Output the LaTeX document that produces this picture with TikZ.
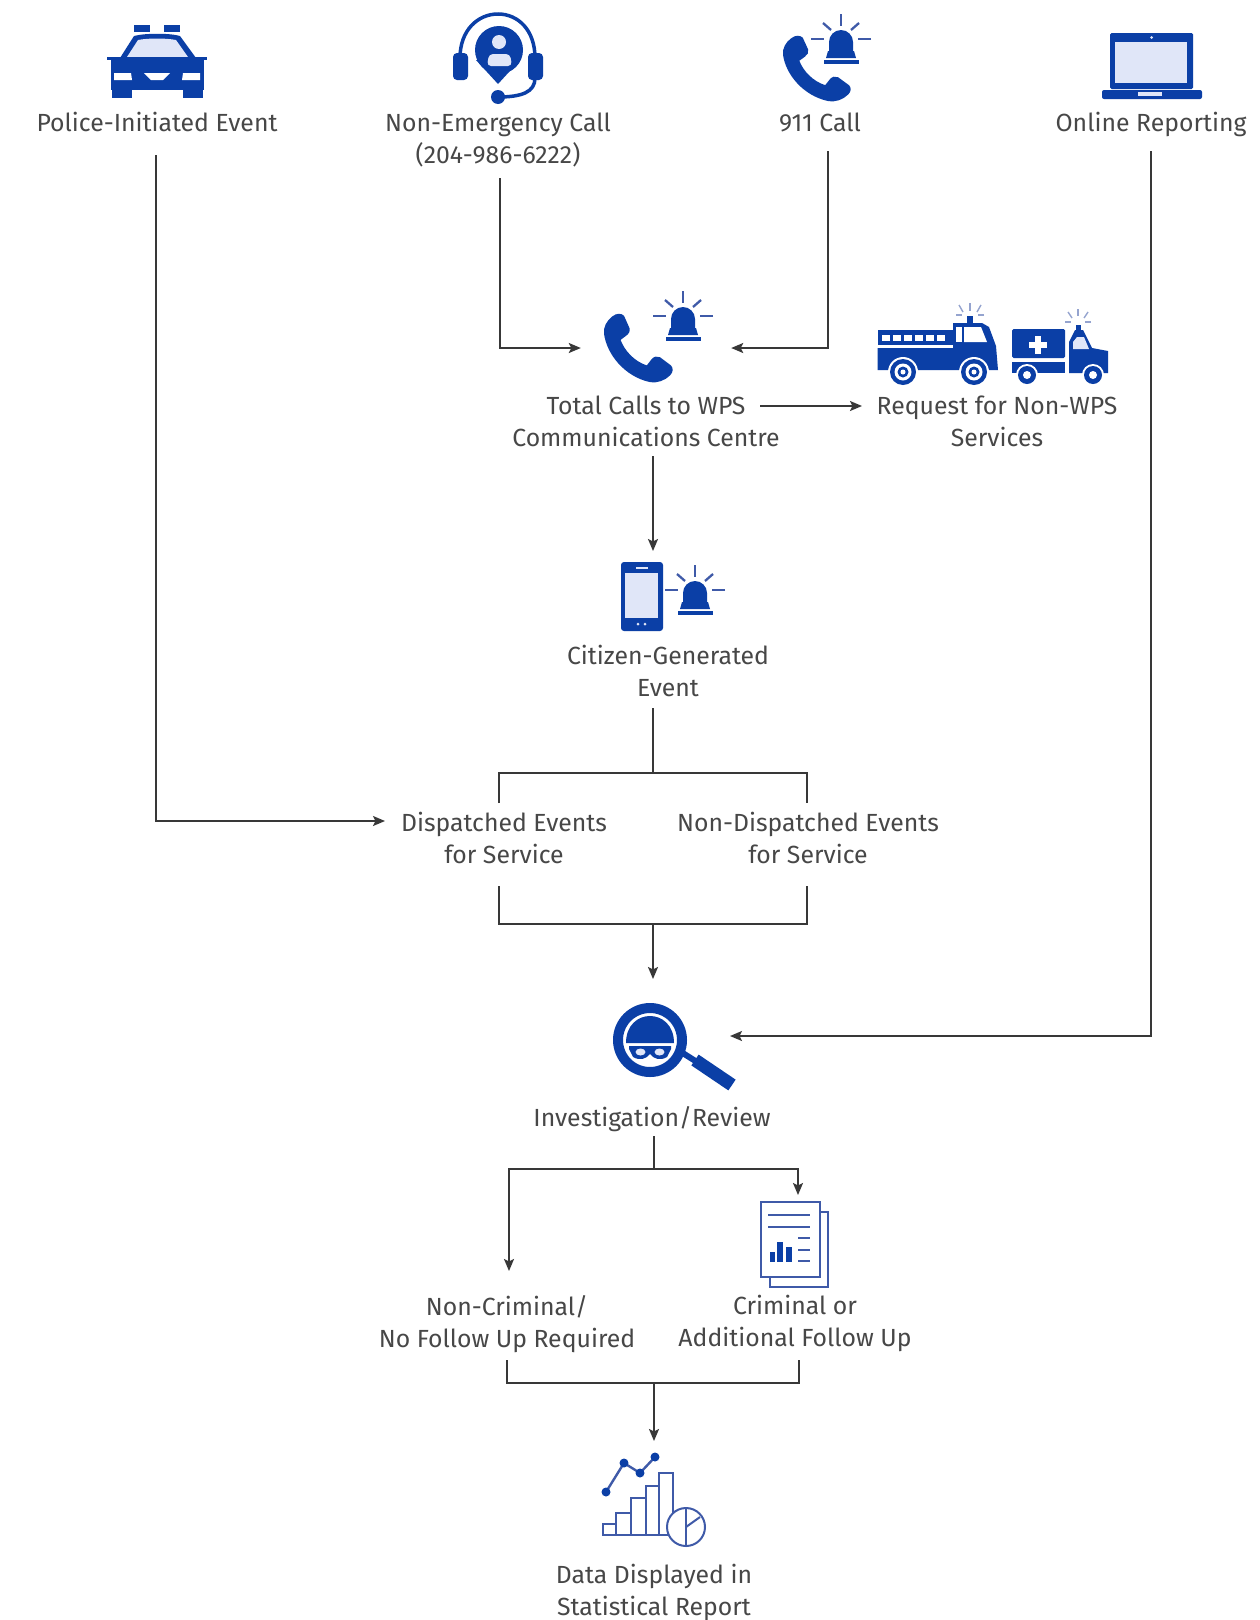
\documentclass[tikz,border=0pt]{standalone}
\usepackage{fontspec}
\setmainfont{Fira Sans}
\usetikzlibrary{arrows.meta}
\definecolor{wblue}{HTML}{0B3FA6}
\definecolor{wlight}{HTML}{E0E6F8}
\definecolor{wline}{HTML}{383838}
\definecolor{wtext}{HTML}{474747}
\definecolor{wout}{HTML}{3F5AA8}
\newcommand{\ls}{\rule[-6pt]{0pt}{24pt}}
\tikzset{
  lab/.style={text=wtext,font=\fontsize{24.8}{32}\selectfont,inner sep=0pt,align=center,anchor=center},
  conn/.style={draw=wline,line width=1.8pt},
  arr/.style={conn,-{Stealth[length=12pt,width=10pt,inset=2.5pt]}},
  iconbox/.style={inner sep=0pt,draw=none,fill=none},
  ray/.style={draw=wout,line width=2.3pt},
  thin rays/.style={draw=wout!55,line width=1.4pt},
  outl/.style={draw=wout,line width=2pt,fill=white}
}
\newcommand{\beaconicon}[2]{%
\begin{scope}[shift={(#1,#2)}]
  \fill[wblue] (-12,-11) -- (-12,-22) arc[start angle=180,end angle=360,radius=12] -- (12,-11) -- cycle;
  \fill[wblue] (-13,-13) -- (13,-13) -- (15,-6) -- (-15,-6) -- cycle;
  \fill[wblue] (-17.5,-4) rectangle (17.5,0);
  \draw[ray] (0,-50) -- (0,-38);
  \draw[ray] (-18,-41) -- (-10,-34);
  \draw[ray] (18,-41) -- (10,-34);
  \draw[ray] (-30,-25) -- (-17,-25);
  \draw[ray] (30,-25) -- (17,-25);
\end{scope}}
\newcommand{\phoneicon}[4]{%
\begin{scope}[shift={(#1,#2)},x=#3pt,y=-#4pt]
  \fill[wblue] (12,5) .. controls (18,0) and (25,0) .. (29,4) -- (37,22)
   .. controls (38,27) and (36,30) .. (32,33) -- (24,39)
   .. controls (30,55) and (44,70) .. (62,76) -- (69,67)
   .. controls (72,63) and (77,62) .. (81,64) -- (97,76)
   .. controls (101,80) and (100,86) .. (96,90)
   .. controls (88,98) and (78,102) .. (66,100)
   .. controls (30,92) and (4,60) .. (0,30)
   .. controls (-1,20) and (4,11) .. (12,5) -- cycle;
\end{scope}}
\begin{document}
\begin{tikzpicture}[x=1pt,y=-1pt]
\useasboundingbox[fill=white] (0,0) rectangle (1260,1620);
% ---------- labels
\node[lab] (police) at (157,125) {\ls Police-Initiated Event};
\node[lab] (nonem) at (498,141) {\ls Non-Emergency Call\\\ls (204-986-6222)};
\node[lab] (nine) at (820,125) {\ls 911 Call};
\node[lab] (online) at (1151,125) {\ls Online Reporting};
\node[lab] (total) at (646,424) {\ls Total Calls to WPS\\\ls Communications Centre};
\node[lab] (request) at (997,424) {\ls Request for Non-WPS\\\ls Services};
\node[lab] (citizen) at (668,674) {\ls Citizen-Generated\\\ls Event};
\node[lab] (disp) at (504,841) {\ls Dispatched Events\\\ls for Service};
\node[lab] (nondisp) at (808,841) {\ls Non-Dispatched Events\\\ls for Service};
\node[lab] (invest) at (652,1119) {\ls Investigation/Review};
\node[lab] (noncrim) at (507,1324) {\ls Non-Criminal/\\\ls No Follow Up Required};
\node[lab] (crim) at (795,1324) {\ls Criminal or\\\ls Additional Follow Up};
\node[lab] (data) at (654,1593) {\ls Data Displayed in\\\ls Statistical Report};
% ---------- icon anchor boxes
\node[iconbox,minimum width=150pt,minimum height=60pt] (callsicon) at (656,348) {};
\node[iconbox,minimum width=80pt,minimum height=10pt,anchor=north] (citizenicon) at (653,551) {};
\node[iconbox,minimum width=150pt,minimum height=10pt,anchor=north] (magicon) at (653,979) {};
\node[iconbox,minimum width=80pt,minimum height=10pt,anchor=north] (docicon) at (798,1195) {};
\node[iconbox,minimum width=80pt,minimum height=10pt,anchor=north] (charticon) at (654,1441) {};
% ---------- connector ends and junctions
\coordinate (policeS) at (156,155);
\coordinate (nonemS) at (500,178);
\coordinate (nineS) at (828,151);
\coordinate (onlineS) at (1151,151);
\coordinate (dispW) at (385,821);
\coordinate (totalE) at (760,406);
\coordinate (requestW) at (862,406);
\coordinate (totalS) at (653,456);
\coordinate (citizenS) at (653,708);
\coordinate (split) at (653,773);
\coordinate (dispN) at (499,803);
\coordinate (nondispN) at (807,803);
\coordinate (dispS) at (499,886);
\coordinate (nondispS) at (807,886);
\coordinate (merge) at (653,924);
\coordinate (investS) at (654,1136);
\coordinate (split2) at (654,1169);
\coordinate (noncrimN) at (509,1271);
\coordinate (noncrimS) at (507,1360);
\coordinate (crimS) at (799,1360);
\coordinate (merge2) at (654,1383);
\coordinate (magE) at (730,1036);
% ---------- connectors
\draw[arr] (policeS) |- (dispW);
\draw[arr] (nonemS) |- (callsicon.west);
\draw[arr] (nineS) |- (callsicon.east);
\draw[arr] (totalE) -- (requestW);
\draw[arr] (totalS) -- (citizenicon.north);
\draw[conn] (citizenS) -- (split);
\draw[conn] (dispN) |- (split) -| (nondispN);
\draw[conn] (dispS) |- (merge) -| (nondispS);
\draw[arr] (merge) -- (magicon.north);
\draw[arr] (onlineS) |- (magE);
\draw[conn] (investS) -- (split2);
\draw[arr] (split2) -| (noncrimN);
\draw[arr] (split2) -| (docicon.north);
\draw[conn] (noncrimS) |- (merge2) -| (crimS);
\draw[arr] (merge2) -- (charticon.north);
% ---------- police car
\fill[wblue] (134,25) rectangle (150,32);
\fill[wblue] (164,25) rectangle (180,32);
\fill[wblue] (120,58) -- (134,36) .. controls (145,33) and (170,33) .. (180,36) -- (196,58) -- cycle;
\fill[wlight] (127,57) -- (138,40) .. controls (148,38) and (166,38) .. (176,40) -- (188,57) -- cycle;
\fill[wblue] (107,57) rectangle (207,60);
\fill[wblue] (111,57) rectangle (204,90);
\fill[wblue] (112,88) rectangle (132,98);
\fill[wblue] (183,88) rectangle (203,98);
\fill[white] (114,73) -- (131,73) -- (132,80) -- (114,80) -- cycle;
\fill[white] (183,73) -- (200,73) -- (200,80) -- (182,80) -- cycle;
\fill[white] (144,73) -- (170,73) -- (163,80) -- (151,80) -- cycle;
% ---------- headset
\draw[wblue,line width=3.5pt] (460,58) .. controls (460,30) and (478,14) .. (498,14) .. controls (518,14) and (535,30) .. (535,58);
\fill[wblue,rounded corners=4pt] (453,53) rectangle (468,80);
\fill[wblue,rounded corners=4pt] (528,53) rectangle (543,80);
\draw[wblue,line width=3.5pt] (535,78) .. controls (535,92) and (522,97) .. (498,97);
\fill[wblue] (498,97) circle (7);
\fill[wblue] (476,60) -- (498,84) -- (520,60) -- cycle;
\fill[wblue] (499,50) circle (24);
\fill[wlight] (499,42) circle (7);
\fill[wlight,rounded corners=4pt] (487,66) -- (489,54) -- (510,54) -- (512,66) -- cycle;
% ---------- 911 call icon
\phoneicon{783}{35}{.68}{.66}
\beaconicon{841}{64}
% ---------- laptop
\fill[wblue,rounded corners=1.5pt] (1110,33) rectangle (1193,89);
\fill[wlight] (1115,42) rectangle (1187,83);
\fill[wlight] (1151.5,37.5) circle (1.5);
\fill[wblue,rounded corners=2pt] (1102,90) rectangle (1202,99);
\fill[wlight] (1138,92) rectangle (1162,96);
% ---------- total calls icon
\phoneicon{604}{313}{.69}{.69}
\beaconicon{683}{341}
% ---------- fire truck
\fill[wblue] (877.5,330) rectangle (953,345);
\foreach \xx in {882,893,904,915,926,937} {\fill[white] (\xx,335) rectangle ++(8,6);}
\fill[wblue] (953,323) -- (982,323) -- (989,327) -- (996,346) -- (998,370) -- (877.5,370) -- (877.5,348) -- (953,348) -- cycle;
\fill[white] (956,327) rectangle (962,342);
\fill[white] (964,327) -- (981,327) -- (987,342) -- (964,342) -- cycle;
\fill[wblue] (966.5,316) rectangle (972.5,323);
\fill[white] (903,372) circle (15);
\fill[wblue] (903,372) circle (13);
\fill[white] (903,372) circle (8.5);
\fill[wblue] (903,372) circle (5.5);
\fill[white] (903,372) circle (2.5);
\fill[white] (974,372) circle (15);
\fill[wblue] (974,372) circle (13);
\fill[white] (974,372) circle (8.5);
\fill[wblue] (974,372) circle (5.5);
\fill[white] (974,372) circle (2.5);
\draw[thin rays] (970,303) -- (970,311);
\draw[thin rays] (959,305) -- (963,312);
\draw[thin rays] (981,305) -- (977,312);
\draw[thin rays] (956,315) -- (962,315);
\draw[thin rays] (984,315) -- (978,315);
% ---------- ambulance
\fill[wblue,rounded corners=1.5pt] (1012,329) rectangle (1065,358);
\fill[wblue] (1012,362) rectangle (1065,373);
\fill[white] (1035,336) rectangle (1041,354);
\fill[white] (1029,342) rectangle (1047,348);
\fill[wblue] (1069,373) -- (1069,342) -- (1075,330) -- (1083,330) -- (1092,348) -- (1108,351) -- (1108,373) -- cycle;
\fill[wlight] (1073,349) -- (1073,342) -- (1077,337) -- (1084,337) -- (1089,349) -- cycle;
\fill[wblue] (1076,325) rectangle (1081,331);
\fill[white] (1027,375) circle (11);
\fill[wblue] (1027,375) circle (9);
\fill[white] (1027,375) circle (4);
\fill[white] (1093,375) circle (11);
\fill[wblue] (1093,375) circle (9);
\fill[white] (1093,375) circle (4);
\draw[thin rays] (1078,309) -- (1078,316);
\draw[thin rays] (1068,312) -- (1072,318);
\draw[thin rays] (1088,312) -- (1084,318);
\draw[thin rays] (1065,322) -- (1071,322);
\draw[thin rays] (1091,322) -- (1085,322);
% ---------- citizen icon (smartphone + beacon)
\fill[wblue,rounded corners=3pt] (621,562) rectangle (663,631);
\fill[wlight] (625,573) rectangle (658,618);
\fill[wlight] (636,566.5) rectangle (648,568.5);
\fill[wlight] (638,624) circle (1.5);
\fill[wlight] (645,624) circle (1.5);
\beaconicon{695}{615}
% ---------- magnifier
\draw[wblue,line width=13pt] (695,1060) -- (732,1085);
\draw[wblue,line width=6pt] (678,1050) -- (697,1062);
\draw[wblue,line width=10pt] (650,1040) circle (32);
\fill[wblue] (626,1043) .. controls (626,1025) and (638,1016) .. (650,1016) .. controls (662,1016) and (674,1025) .. (674,1043) -- cycle;
\fill[wblue] (629,1046) -- (671,1046) -- (671,1049) -- (667,1057) .. controls (660,1061) and (654,1059) .. (650,1054) .. controls (646,1059) and (640,1061) .. (633,1057) -- (629,1049) -- cycle;
\fill[wlight] (640.5,1052) ellipse (5 and 3.5);
\fill[wlight] (659.5,1052) ellipse (5 and 3.5);
% ---------- documents
\draw[wout,line width=2pt] (820,1212) -- (828,1212) -- (828,1287) -- (770,1287) -- (770,1277);
\draw[wout,line width=2pt] (761,1202) rectangle (820,1277);
\draw[wout,line width=1.8pt] (768,1215) -- (810,1215);
\draw[wout,line width=1.8pt] (768,1227) -- (810,1227);
\fill[wblue] (770,1252) rectangle (775,1262);
\fill[wblue] (777,1242) rectangle (783,1262);
\fill[wblue] (786,1247) rectangle (792,1262);
\draw[wout,line width=1.8pt] (798,1238) -- (810,1238);
\draw[wout,line width=1.8pt] (798,1250) -- (810,1250);
\draw[wout,line width=1.8pt] (798,1261) -- (810,1261);
% ---------- chart
\draw[wout,line width=2.4pt] (606,1492) -- (624,1463) -- (640,1473) -- (655,1457);
\fill[wblue] (606,1492) circle (4.5);
\fill[wblue] (624,1463) circle (4.5);
\fill[wblue] (640,1473) circle (4.5);
\fill[wblue] (655,1457) circle (4.5);
\draw[outl] (603,1524) rectangle (616,1535);
\draw[outl] (616,1513) rectangle (631,1535);
\draw[outl] (631,1498) rectangle (646,1535);
\draw[outl] (646,1486) rectangle (659,1535);
\draw[outl] (659,1473) rectangle (673,1535);
\draw[outl] (686,1527) circle (19);
\draw[wout,line width=2pt] (686,1508) -- (686,1546);
\draw[wout,line width=2pt] (686,1527) -- (700,1517);
\end{tikzpicture}
\end{document}
